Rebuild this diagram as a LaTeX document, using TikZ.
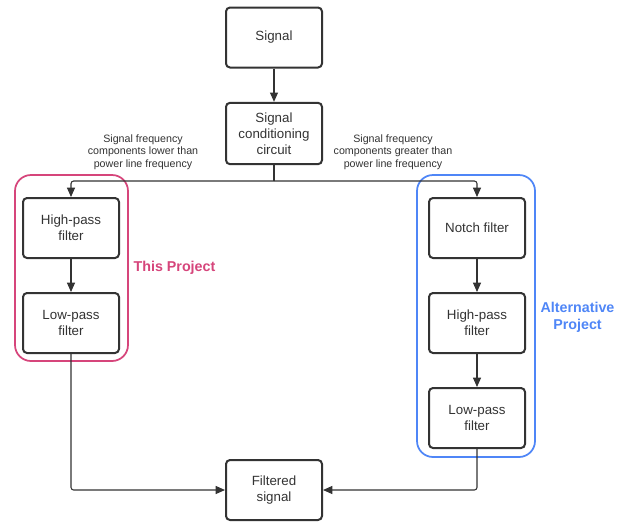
\documentclass[tikz,border=0pt]{standalone}
\usepackage{fontspec}
\setmainfont{Liberation Sans}
\usetikzlibrary{arrows.meta}
\definecolor{ink}{RGB}{51,51,51}
\definecolor{pinkp}{RGB}{214,69,123}
\definecolor{bluep}{RGB}{79,134,247}
\tikzset{
  blk/.style={draw=ink, line width=1.5pt, rounded corners=3pt, minimum width=72pt, minimum height=45pt, align=center, text=ink, font=\fontsize{10}{12}\selectfont, inner sep=0pt},
  conn/.style={draw=ink, line width=0.8pt, rounded corners=2pt, -{Triangle[length=7pt,width=6pt]}},
  lbl/.style={align=center, text=ink, font=\fontsize{8}{9.4}\selectfont},
  grp/.style={line width=1.3pt, rounded corners=12pt},
  grplbl/.style={font=\fontsize{10.7}{12.8}\selectfont\bfseries, align=center},
}
\begin{document}
\begin{tikzpicture}[x=0.75pt,y=-0.75pt]
\useasboundingbox (0,0) rectangle (627,522);
\fill[white] (0,0) rectangle (627,522);
\draw[grp, pinkp] (15,175) rectangle (128,361);
\draw[grp, bluep] (417,175) rectangle (535,457);
\node[blk] (sig) at (274,37.5) {Signal};
\node[blk, minimum height=46pt] (cond) at (274,133.5) {Signal\\conditioning\\circuit};
\node[blk] (hpl) at (71,228) {High-pass\\filter};
\node[blk] (lpl) at (71,323) {Low-pass\\filter};
\node[blk] (notch) at (477,228) {Notch filter};
\node[blk] (hpr) at (477,323) {High-pass\\filter};
\node[blk] (lpr) at (477,418) {Low-pass\\filter};
\node[blk] (out) at (274,490) {Filtered\\signal};
\coordinate (split) at (274,181);
\node[lbl] (llbl) at (143,152) {Signal frequency\\components lower than\\power line frequency};
\node[lbl] (rlbl) at (393,152) {Signal frequency\\components greater than\\power line frequency};
\node[grplbl, text=pinkp] (tp) at (174.5,268) {This Project};
\node[grplbl, text=bluep] (ap) at (577.5,317) {Alternative\\Project};
\draw[conn] (sig) -- (cond);
\draw[draw=ink, line width=0.8pt] (cond.south) -- (split);
\draw[conn] (split) -| (hpl.north);
\draw[conn] (split) -| (notch.north);
\draw[conn] (hpl) -- (lpl);
\draw[conn] (notch) -- (hpr);
\draw[conn] (hpr) -- (lpr);
\draw[conn] (lpl.south) |- (out.west);
\draw[conn] (lpr.south) |- (out.east);
\end{tikzpicture}
\end{document}
